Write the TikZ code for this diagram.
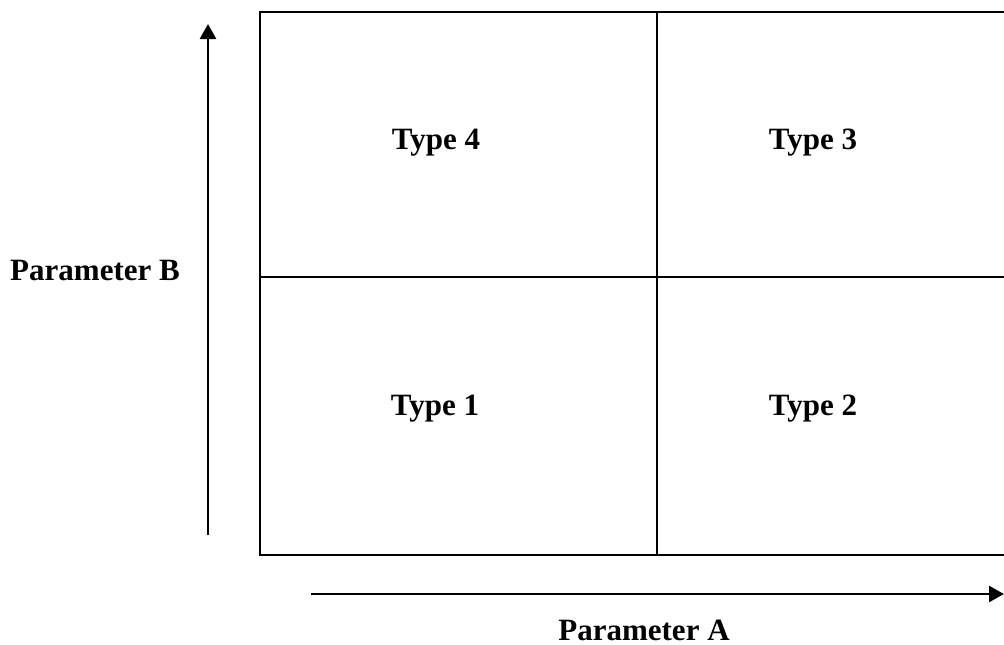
\documentclass[tikz,border=0pt]{standalone}
\usepackage{fontspec}
\setmainfont{Liberation Serif}
\usetikzlibrary{arrows.meta}
\begin{document}
\begin{tikzpicture}[x=1pt,y=-1pt,
  lbl/.style={font=\fontsize{31}{36}\selectfont\bfseries, inner sep=0pt},
  gridline/.style={line width=2.2pt},
  axis/.style={line width=2.6pt, -{Triangle[width=16pt,length=15pt]}}]
\useasboundingbox (0,0) rectangle (1004,645);
% grid corners
\coordinate (tl) at (260,12);
\coordinate (tr) at (1004,12);
\coordinate (bl) at (260,555);
\coordinate (br) at (1004,555);
\coordinate (mt) at (657,12);
\coordinate (mb) at (657,555);
\coordinate (ml) at (260,277);
\coordinate (mr) at (1004,277);
% open-right grid
\draw[gridline] (tr) -- (tl) -- (bl) -- (br);
\draw[gridline] (mt) -- (mb);
\draw[gridline] (ml) -- (mr);
% cell labels
\node[lbl] (t4) at (436,143) {Type 4};
\node[lbl] (t3) at (813,143) {Type 3};
\node[lbl] (t1) at (435,409) {Type 1};
\node[lbl] (t2) at (813,409) {Type 2};
% axes
\coordinate (b0) at (208,535);
\coordinate (b1) at (208,24);
\draw[axis] (b0) -- (b1);
\coordinate (a0) at (311,594);
\coordinate (a1) at (1004,594);
\draw[axis] (a0) -- (a1);
\node[lbl] (pb) at (95,270) {Parameter B};
\node[lbl] (pa) at (644,630) {Parameter A};
\end{tikzpicture}
\end{document}
